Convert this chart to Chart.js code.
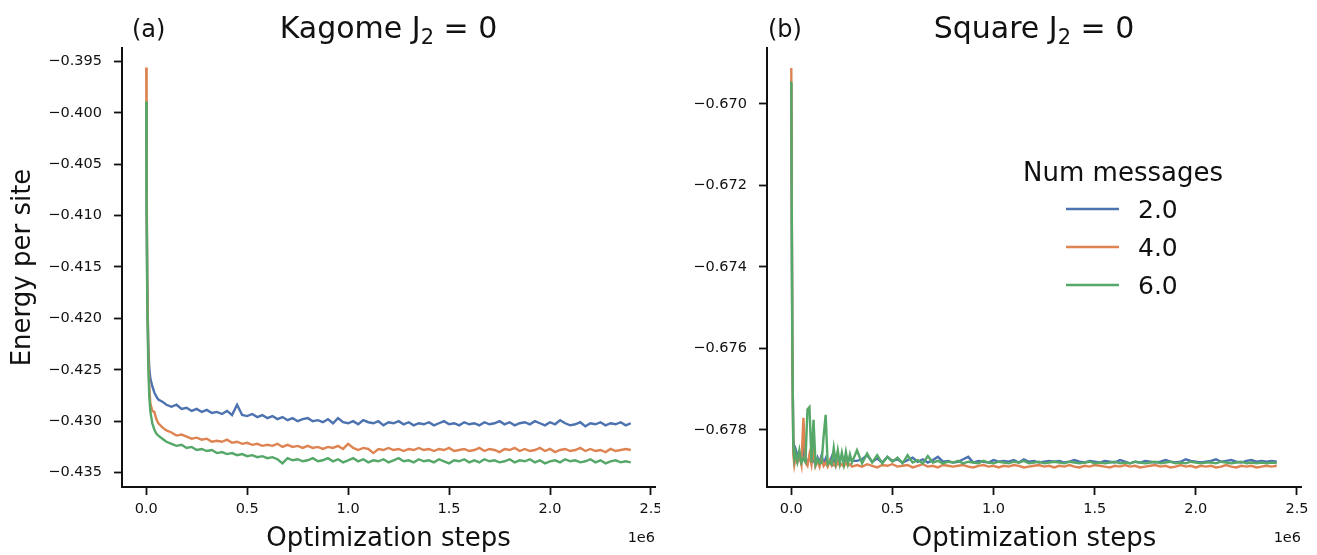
<!DOCTYPE html>
<html>
<head>
<meta charset="utf-8">
<script src="https://cdn.jsdelivr.net/npm/chart.js@4.4.1/dist/chart.umd.min.js"></script>
<style>
html, body { margin: 0; padding: 0; background: #fff; }
#wrap { position: relative; width: 1317px; height: 555px; }
.panel { position: absolute; top: 0; height: 555px; }
#p1 { left: 0; width: 660px; }
#p2 { left: 660px; width: 657px; }
</style>
</head>
<body>
<div id="wrap">
  <div class="panel" id="p1"><canvas id="kagome"></canvas></div>
  <div class="panel" id="p2"><canvas id="square"></canvas></div>
</div>
<script>
// DATA
const seriesLabels = ['2.0', '4.0', '6.0'];
const seriesColors = ['#4C72B0', '#DD8452', '#55A868'];

const xTicks = [0, 500000, 1000000, 1500000, 2000000, 2500000];
const xTickLabels = ['0.0', '0.5', '1.0', '1.5', '2.0', '2.5'];

const kagomeYTicks = [-0.435, -0.430, -0.425, -0.420, -0.415, -0.410, -0.405, -0.400, -0.395];
const kagomeYLabels = ['\u22120.435', '\u22120.430', '\u22120.425', '\u22120.420', '\u22120.415', '\u22120.410', '\u22120.405', '\u22120.400', '\u22120.395'];
const squareYTicks = [-0.678, -0.676, -0.674, -0.672, -0.670];
const squareYLabels = ['\u22120.678', '\u22120.676', '\u22120.674', '\u22120.672', '\u22120.670'];

const kagomeSteps = [0, 2000, 5000, 10000, 15000, 20000, 30000, 40000, 50000, 60000, 80000, 100000,
  125000, 150000, 175000, 200000, 225000, 250000, 275000, 300000, 325000, 350000,
  375000, 400000, 425000, 450000, 475000, 500000, 525000, 550000, 575000, 600000,
  625000, 650000, 675000, 700000, 725000, 750000, 775000, 800000, 825000, 850000,
  875000, 900000, 925000, 950000, 975000, 1000000, 1025000, 1050000, 1075000, 1100000,
  1125000, 1150000, 1175000, 1200000, 1225000, 1250000, 1275000, 1300000, 1325000, 1350000,
  1375000, 1400000, 1425000, 1450000, 1475000, 1500000, 1525000, 1550000, 1575000, 1600000,
  1625000, 1650000, 1675000, 1700000, 1725000, 1750000, 1775000, 1800000, 1825000, 1850000,
  1875000, 1900000, 1925000, 1950000, 1975000, 2000000, 2025000, 2050000, 2075000, 2100000,
  2125000, 2150000, 2175000, 2200000, 2225000, 2250000, 2275000, 2300000, 2325000, 2350000, 2375000, 2400000];

const kagome2 = [-0.3990, -0.4080, -0.4170, -0.4225, -0.4248, -0.4258, -0.4266, -0.4272, -0.4276, -0.4279, -0.4281, -0.4284,
  -0.4286, -0.4284, -0.4288, -0.4287, -0.4290, -0.4288, -0.4291, -0.4289, -0.4292, -0.4291,
  -0.4293, -0.4290, -0.4294, -0.4284, -0.4294, -0.4295, -0.4293, -0.4296, -0.4294, -0.4297,
  -0.4295, -0.4298, -0.4296, -0.4299, -0.4297, -0.4300, -0.4298, -0.4297, -0.4300, -0.4299,
  -0.4301, -0.4298, -0.4302, -0.4297, -0.4301, -0.4302, -0.4300, -0.4303, -0.4299, -0.4301,
  -0.4302, -0.4300, -0.4304, -0.4301, -0.4302, -0.4300, -0.4303, -0.4301, -0.4304, -0.4302,
  -0.4303, -0.4301, -0.4304, -0.4302, -0.4300, -0.4303, -0.4302, -0.4304, -0.4301, -0.4303,
  -0.4302, -0.4304, -0.4301, -0.4303, -0.4302, -0.4300, -0.4303, -0.4301, -0.4304, -0.4302,
  -0.4301, -0.4303, -0.4300, -0.4302, -0.4304, -0.4301, -0.4303, -0.4299, -0.4302, -0.4304,
  -0.4303, -0.4301, -0.4305, -0.4302, -0.4303, -0.4301, -0.4304, -0.4302, -0.4303, -0.4301, -0.4304, -0.4302];

const kagome4 = [-0.3956, -0.4060, -0.4160, -0.4230, -0.4265, -0.4282, -0.4290, -0.4291, -0.4298, -0.4302, -0.4306, -0.4309,
  -0.4311, -0.4314, -0.4313, -0.4315, -0.4317, -0.4316, -0.4318, -0.4317, -0.4320, -0.4319,
  -0.4320, -0.4318, -0.4321, -0.4320, -0.4322, -0.4321, -0.4323, -0.4322, -0.4324, -0.4323,
  -0.4324, -0.4322, -0.4325, -0.4323, -0.4325, -0.4324, -0.4326, -0.4324, -0.4326, -0.4325,
  -0.4327, -0.4325, -0.4326, -0.4324, -0.4327, -0.4322, -0.4326, -0.4328, -0.4326, -0.4327,
  -0.4331, -0.4327, -0.4328, -0.4326, -0.4328, -0.4327, -0.4329, -0.4327, -0.4328, -0.4326,
  -0.4328, -0.4327, -0.4329, -0.4327, -0.4328, -0.4326, -0.4329, -0.4328, -0.4327, -0.4329,
  -0.4328, -0.4326, -0.4329, -0.4327, -0.4328, -0.4330, -0.4327, -0.4328, -0.4326, -0.4329,
  -0.4327, -0.4329, -0.4328, -0.4326, -0.4329, -0.4327, -0.4330, -0.4328, -0.4327, -0.4329,
  -0.4328, -0.4326, -0.4329, -0.4327, -0.4329, -0.4328, -0.4330, -0.4327, -0.4329, -0.4328, -0.4327, -0.4328];

const kagome6 = [-0.3989, -0.4090, -0.4180, -0.4245, -0.4275, -0.4290, -0.4302, -0.4308, -0.4312, -0.4314, -0.4317, -0.4320,
  -0.4322, -0.4324, -0.4323, -0.4326, -0.4325, -0.4328, -0.4327, -0.4329, -0.4328, -0.4331,
  -0.4330, -0.4332, -0.4331, -0.4333, -0.4332, -0.4334, -0.4333, -0.4335, -0.4334, -0.4336,
  -0.4335, -0.4337, -0.4341, -0.4336, -0.4338, -0.4337, -0.4339, -0.4338, -0.4336, -0.4339,
  -0.4338, -0.4336, -0.4339, -0.4337, -0.4340, -0.4338, -0.4336, -0.4339, -0.4337, -0.4340,
  -0.4338, -0.4339, -0.4337, -0.4340, -0.4338, -0.4336, -0.4339, -0.4338, -0.4340, -0.4337,
  -0.4339, -0.4338, -0.4340, -0.4337, -0.4339, -0.4341, -0.4338, -0.4339, -0.4337, -0.4340,
  -0.4338, -0.4340, -0.4337, -0.4339, -0.4338, -0.4340, -0.4339, -0.4337, -0.4340, -0.4338,
  -0.4339, -0.4337, -0.4340, -0.4338, -0.4341, -0.4339, -0.4338, -0.4340, -0.4337, -0.4339,
  -0.4338, -0.4340, -0.4339, -0.4337, -0.4340, -0.4338, -0.4341, -0.4339, -0.4338, -0.4340, -0.4339, -0.4340];

const squareSteps = [0, 5000, 10000, 15000, 20000, 30000, 40000, 50000, 60000, 70000, 80000, 90000, 100000,
  110000, 120000, 130000, 140000, 150000, 160000, 170000, 180000, 190000, 200000, 210000, 220000,
  230000, 240000, 250000, 260000, 270000, 280000, 290000, 300000,
  325000, 350000, 375000, 400000, 425000, 450000, 475000, 500000, 525000, 550000,
  575000, 600000, 625000, 650000, 675000, 700000, 725000, 750000, 775000, 800000,
  825000, 850000, 875000, 900000, 925000, 950000, 975000, 1000000, 1025000, 1050000,
  1075000, 1100000, 1125000, 1150000, 1175000, 1200000, 1225000, 1250000, 1275000, 1300000,
  1325000, 1350000, 1375000, 1400000, 1425000, 1450000, 1475000, 1500000, 1525000, 1550000,
  1575000, 1600000, 1625000, 1650000, 1675000, 1700000, 1725000, 1750000, 1775000, 1800000,
  1825000, 1850000, 1875000, 1900000, 1925000, 1950000, 1975000, 2000000, 2025000, 2050000,
  2075000, 2100000, 2125000, 2150000, 2175000, 2200000, 2225000, 2250000, 2275000, 2300000,
  2325000, 2350000, 2375000, 2400000];

const square2 = [-0.66950, -0.67600, -0.67820, -0.67850, -0.67845, -0.67862, -0.67870, -0.67880, -0.67845, -0.67872, -0.67882, -0.67866, -0.67842,
  -0.67876, -0.67884, -0.67868, -0.67880, -0.67862, -0.67884, -0.67870, -0.67886, -0.67878, -0.67866, -0.67882, -0.67870,
  -0.67880, -0.67872, -0.67864, -0.67880, -0.67870, -0.67878, -0.67868, -0.67876,
  -0.67876, -0.67872, -0.67862, -0.67878, -0.67870, -0.67880, -0.67866, -0.67876, -0.67872, -0.67880,
  -0.67874, -0.67868, -0.67878, -0.67872, -0.67880, -0.67874, -0.67866, -0.67878, -0.67876, -0.67880,
  -0.67878, -0.67872, -0.67866, -0.67880, -0.67876, -0.67878, -0.67880, -0.67874, -0.67878, -0.67876,
  -0.67878, -0.67874, -0.67880, -0.67872, -0.67878, -0.67876, -0.67880, -0.67878, -0.67876, -0.67878,
  -0.67876, -0.67880, -0.67878, -0.67874, -0.67878, -0.67880, -0.67876, -0.67878, -0.67880, -0.67876,
  -0.67878, -0.67880, -0.67874, -0.67878, -0.67882, -0.67878, -0.67880, -0.67876, -0.67878, -0.67880,
  -0.67878, -0.67874, -0.67878, -0.67880, -0.67878, -0.67872, -0.67876, -0.67878, -0.67880, -0.67878,
  -0.67876, -0.67872, -0.67878, -0.67876, -0.67874, -0.67878, -0.67880, -0.67876, -0.67874, -0.67878,
  -0.67876, -0.67878, -0.67876, -0.67878];

const square4 = [-0.66912, -0.67550, -0.67860, -0.67885, -0.67870, -0.67880, -0.67860, -0.67885, -0.67770, -0.67880, -0.67888, -0.67860, -0.67885,
  -0.67845, -0.67888, -0.67875, -0.67890, -0.67870, -0.67888, -0.67880, -0.67890, -0.67876, -0.67888, -0.67882, -0.67890,
  -0.67878, -0.67888, -0.67884, -0.67890, -0.67880, -0.67888, -0.67884, -0.67890,
  -0.67886, -0.67890, -0.67884, -0.67888, -0.67892, -0.67886, -0.67888, -0.67884, -0.67890, -0.67888,
  -0.67886, -0.67892, -0.67888, -0.67884, -0.67890, -0.67888, -0.67892, -0.67886, -0.67888, -0.67890,
  -0.67888, -0.67886, -0.67890, -0.67892, -0.67888, -0.67886, -0.67890, -0.67888, -0.67892, -0.67888,
  -0.67890, -0.67886, -0.67888, -0.67892, -0.67890, -0.67888, -0.67886, -0.67890, -0.67888, -0.67892,
  -0.67888, -0.67890, -0.67886, -0.67890, -0.67892, -0.67888, -0.67890, -0.67886, -0.67888, -0.67890,
  -0.67892, -0.67888, -0.67890, -0.67886, -0.67890, -0.67888, -0.67892, -0.67890, -0.67888, -0.67886,
  -0.67890, -0.67888, -0.67892, -0.67890, -0.67886, -0.67890, -0.67888, -0.67892, -0.67888, -0.67890,
  -0.67888, -0.67892, -0.67890, -0.67886, -0.67890, -0.67892, -0.67888, -0.67890, -0.67888, -0.67892,
  -0.67890, -0.67888, -0.67890, -0.67888];

const square6 = [-0.66945, -0.67580, -0.67840, -0.67870, -0.67855, -0.67878, -0.67850, -0.67880, -0.67870, -0.67878, -0.67750, -0.67744, -0.67880,
  -0.67775, -0.67885, -0.67872, -0.67882, -0.67880, -0.67815, -0.67763, -0.67884, -0.67878, -0.67884, -0.67844, -0.67880,
  -0.67850, -0.67882, -0.67856, -0.67884, -0.67854, -0.67882, -0.67860, -0.67880,
  -0.67850, -0.67882, -0.67858, -0.67880, -0.67862, -0.67882, -0.67866, -0.67878, -0.67868, -0.67882,
  -0.67862, -0.67880, -0.67874, -0.67882, -0.67864, -0.67880, -0.67876, -0.67882, -0.67878, -0.67880,
  -0.67876, -0.67882, -0.67878, -0.67880, -0.67882, -0.67876, -0.67880, -0.67882, -0.67878, -0.67880,
  -0.67882, -0.67878, -0.67880, -0.67876, -0.67882, -0.67880, -0.67878, -0.67882, -0.67880, -0.67878,
  -0.67880, -0.67882, -0.67878, -0.67880, -0.67882, -0.67880, -0.67878, -0.67882, -0.67880, -0.67882,
  -0.67880, -0.67878, -0.67882, -0.67880, -0.67882, -0.67878, -0.67880, -0.67882, -0.67880, -0.67878,
  -0.67882, -0.67880, -0.67878, -0.67882, -0.67880, -0.67882, -0.67878, -0.67880, -0.67882, -0.67880,
  -0.67880, -0.67882, -0.67878, -0.67880, -0.67882, -0.67880, -0.67878, -0.67882, -0.67880, -0.67882,
  -0.67880, -0.67882, -0.67880, -0.67881];

// STYLE
const FONT = '"DejaVu Sans", sans-serif';
const INK = '#111';

// panel label, title with subscript, offset text "1e6"
const panelText = {
  id: 'panelText',
  afterDraw(chart, args, opts) {
    const ctx = chart.ctx;
    const area = chart.chartArea;
    ctx.save();
    ctx.fillStyle = INK;
    ctx.textBaseline = 'alphabetic';

    ctx.font = '24px ' + FONT;
    ctx.textAlign = 'left';
    ctx.fillText(opts.label, area.left + opts.labelDx, 37);

    // "Name J" + subscript "2" + " = 0"
    const big = '30px ' + FONT, small = '21px ' + FONT;
    const a = opts.name + ' J', b = '2', c = ' = 0';
    ctx.font = big; const wa = ctx.measureText(a).width, wc = ctx.measureText(c).width;
    ctx.font = small; const wb = ctx.measureText(b).width;
    let x = (area.left + area.right) / 2 - (wa + wb + wc) / 2;
    ctx.font = big; ctx.fillText(a, x, 38); x += wa;
    ctx.font = small; ctx.fillText(b, x, 44); x += wb;
    ctx.font = big; ctx.fillText(c, x, 38);

    ctx.font = '14.5px ' + FONT;
    ctx.textAlign = 'right';
    ctx.fillText('1e6', area.right, 542);
    ctx.restore();
  }
};

const messageLegend = {
  id: 'messageLegend',
  afterDraw(chart, args, opts) {
    if (!opts.show) return;
    const ctx = chart.ctx;
    ctx.save();
    ctx.fillStyle = INK;
    ctx.textBaseline = 'alphabetic';
    ctx.font = '26px ' + FONT;
    ctx.textAlign = 'center';
    ctx.fillText('Num messages', opts.cx, 181);
    ctx.textAlign = 'left';
    ctx.font = '25px ' + FONT;
    chart.data.datasets.forEach((ds, i) => {
      const y = 209 + i * 38;
      ctx.strokeStyle = ds.borderColor;
      ctx.lineWidth = 2.4;
      ctx.beginPath();
      ctx.moveTo(opts.cx - 57, y);
      ctx.lineTo(opts.cx - 4, y);
      ctx.stroke();
      ctx.fillText(ds.label, opts.cx + 15, y + 9);
    });
    ctx.restore();
  }
};

function makeChart(id, steps, series, cfg) {
  const datasets = series.map((vals, i) => ({
    label: seriesLabels[i],
    data: steps.map((s, j) => ({ x: s, y: vals[j] })),
    borderColor: seriesColors[i],
    backgroundColor: seriesColors[i],
    borderWidth: 2.4,
    pointRadius: 0,
    tension: 0,
    order: 3 - i
  }));
  return new Chart(document.getElementById(id), {
    type: 'line',
    data: { datasets },
    plugins: [panelText, messageLegend],
    options: {
      responsive: true,
      maintainAspectRatio: false,
      animation: false,
      layout: { padding: { top: 48, right: cfg.padRight, left: 0, bottom: 0 } },
      plugins: {
        legend: { display: false },
        tooltip: { enabled: false },
        panelText: { label: cfg.label, labelDx: cfg.labelDx, name: cfg.name },
        messageLegend: { show: cfg.legend, cx: 463 }
      },
      scales: {
        x: {
          type: 'linear',
          min: -120000,
          max: 2520000,
          afterBuildTicks: axis => { axis.ticks = xTicks.map(v => ({ value: v })); },
          afterFit: axis => { axis.height = 68; axis.paddingLeft = 0; axis.paddingRight = 0; },
          ticks: {
            callback: (v, i) => xTickLabels[i],
            autoSkip: false, maxRotation: 0, padding: 6,
            color: INK, font: { family: FONT, size: 14.5 }
          },
          grid: { drawOnChartArea: false, drawTicks: true, tickLength: 8, tickWidth: 1.8, tickColor: INK },
          border: { display: true, color: INK, width: 2 },
          title: { display: true, text: 'Optimization steps', color: INK, font: { family: FONT, size: 26 }, padding: { top: 0, bottom: 0 } }
        },
        y: {
          type: 'linear',
          min: cfg.yMin,
          max: cfg.yMax,
          afterBuildTicks: axis => { axis.ticks = cfg.yTicks.map(v => ({ value: v })); },
          afterFit: axis => { axis.width = cfg.yWidth; axis.paddingTop = 0; axis.paddingBottom = 0; },
          ticks: {
            callback: (v, i) => cfg.yLabels[i],
            autoSkip: false, padding: 12,
            color: INK, font: { family: FONT, size: 14.5 }
          },
          grid: { drawOnChartArea: false, drawTicks: true, tickLength: 8, tickWidth: 1.8, tickColor: INK },
          border: { display: true, color: INK, width: 2 },
          title: { display: cfg.yTitle, text: 'Energy per site', color: INK, font: { family: FONT, size: 26 }, padding: { top: 8, bottom: 0 } }
        }
      }
    }
  });
}

makeChart('kagome', kagomeSteps, [kagome2, kagome4, kagome6], {
  label: '(a)', labelDx: 10, name: 'Kagome', padRight: 5, yWidth: 122,
  yMin: -0.4364, yMax: -0.3937, yTicks: kagomeYTicks, yLabels: kagomeYLabels, yTitle: true, legend: false
});

makeChart('square', squareSteps, [square2, square4, square6], {
  label: '(b)', labelDx: 1, name: 'Square', padRight: 16, yWidth: 107,
  yMin: -0.6794, yMax: -0.66863, yTicks: squareYTicks, yLabels: squareYLabels, yTitle: false, legend: true
});
</script>
</body>
</html>
